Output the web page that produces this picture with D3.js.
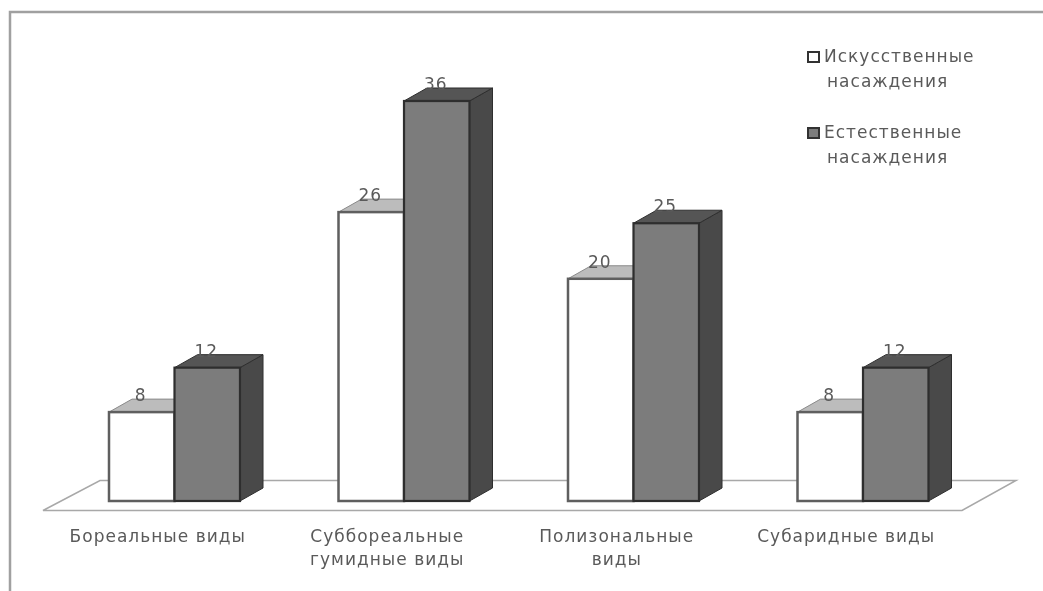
<!DOCTYPE html>
<html><head><meta charset="utf-8">
<script src="https://cdn.jsdelivr.net/npm/d3@7"></script>
<style>html,body{margin:0;padding:0;background:#fff}svg{display:block}text{font-family:"DejaVu Sans",sans-serif;fill:#5a5a5a}</style>
</head><body><svg id="c" width="1043" height="591"></svg>
<script>
const categories=[["Бореальные виды"],["Суббореальные","гумидные виды"],["Полизональные","виды"],["Субаридные виды"]];
const seriesNames=[["Искусственные","насаждения"],["Естественные","насаждения"]];
const artificial=[8,26,20,8];
const natural=[12,36,25,12];
const W=1043,H=591,dx=23,dy=-13;
const svg=d3.select("#c");
const defs=svg.append("defs");
defs.append("filter").attr("id","soft").attr("x","-2%").attr("y","-2%").attr("width","104%").attr("height","104%")
  .append("feGaussianBlur").attr("stdDeviation",0.7);
const g=svg.append("g").attr("filter","url(#soft)");
svg.insert("rect","g").attr("width",W).attr("height",H).attr("fill","#fff");
// frame
g.append("path").attr("d",`M10,${H}V12H${W}`).attr("fill","none").attr("stroke","#a0a0a0").attr("stroke-width",2.5);
const x0=d3.scaleBand().domain(d3.range(4)).range([60,978]);
const x1=d3.scaleBand().domain([0,1]).range([49,180]);
const y=d3.scaleLinear().domain([0,36]).range([501,101]);
// floor
g.append("path").attr("d",`M43,510.5H962L1016,480.5H100Z`).attr("fill","#fff").attr("stroke","#a8a8a8").attr("stroke-width",1.5);
const styles=[{front:"#ffffff",top:"#bcbcbc",side:"#8a8a8a",stroke:"#5e5e5e",sw:2.5},{front:"#7b7b7b",top:"#545454",side:"#4a4a4a",stroke:"#2e2e2e",sw:2.2}];
[artificial,natural].forEach((vals,s)=>{
  const st=styles[s];
  const b=g.append("g").selectAll("g").data(vals).join("g");
  const bx=(d,i)=>x0(i)+x1(s), bw=x1.bandwidth();
  b.append("path").attr("fill",st.side).attr("stroke",st.stroke).attr("stroke-width",1)
    .attr("d",(d,i)=>`M${bx(d,i)+bw},${y(d)}l${dx},${dy}V${y(0)+dy}l${-dx},${-dy}Z`);
  b.append("path").attr("fill",st.top).attr("stroke",s?st.stroke:"#8a8a8a").attr("stroke-width",1)
    .attr("d",(d,i)=>`M${bx(d,i)},${y(d)}l${dx},${dy}h${bw}l${-dx},${-dy}Z`);
  b.append("rect").attr("x",bx).attr("y",d=>y(d)).attr("width",bw).attr("height",d=>y(0)-y(d))
    .attr("fill",st.front).attr("stroke",st.stroke).attr("stroke-width",st.sw);
});
// data labels
[artificial,natural].forEach((vals,s)=>{
  g.append("g").selectAll("text").data(vals).join("text")
    .attr("x",(d,i)=>x0(i)+x1(s)+x1.bandwidth()/2-(s?1:1))
    .attr("y",d=>y(d)-11).attr("text-anchor","middle").attr("font-size",17).attr("letter-spacing",1).text(d=>d);
});
// category labels
const lab=g.append("g").selectAll("text").data(categories).join("text")
  .attr("text-anchor","middle").attr("font-size",17).attr("letter-spacing",1)
  .attr("y",542).attr("x",(d,i)=>x0(i)+x0.bandwidth()/2-17);
lab.selectAll("tspan").data(d=>d).join("tspan").attr("x",function(){return d3.select(this.parentNode).attr("x")})
  .attr("dy",(d,i)=>i?23:0).text(d=>d);
// legend
const legY=[56,132];
const lg=g.append("g").selectAll("g").data(seriesNames).join("g");
lg.append("rect").attr("x",808).attr("y",(d,i)=>legY[i]-4).attr("width",11).attr("height",10)
  .attr("fill",(d,i)=>styles[i].front).attr("stroke","#333").attr("stroke-width",2);
lg.each(function(d,i){
  d3.select(this).selectAll("text").data(d).join("text").attr("x",(t,j)=>j?827:824).attr("y",(t,j)=>legY[i]+6+j*25)
   .attr("font-size",17).attr("letter-spacing",1).text(t=>t);
});
</script></body></html>
